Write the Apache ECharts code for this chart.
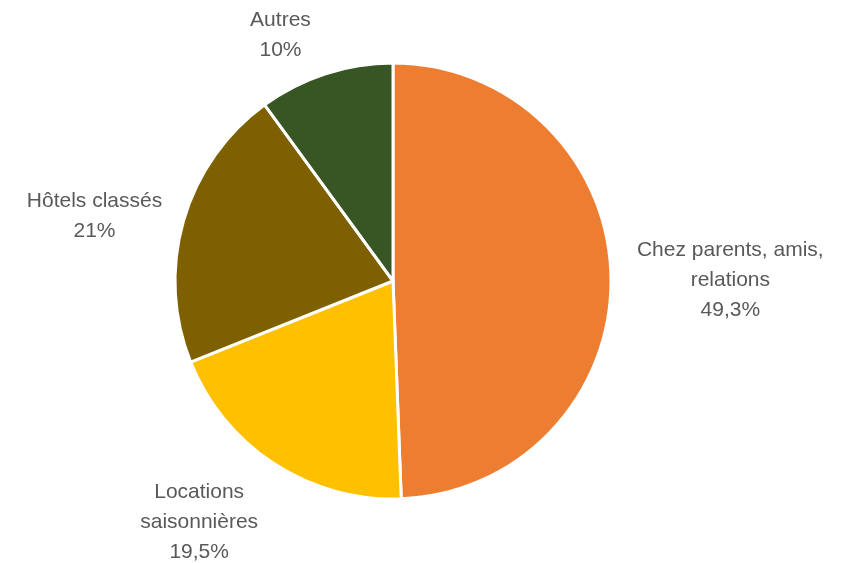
<!DOCTYPE html>
<html>
<head>
<meta charset="utf-8">
<script src="https://cdn.jsdelivr.net/npm/echarts@6/dist/echarts.min.js"></script>
<style>
  html, body { margin: 0; padding: 0; background: #ffffff; }
  #chart { width: 844px; height: 563px; }
</style>
</head>
<body>
<div id="chart"></div>
<script>
// Data
const categories = ['Chez parents, amis,\nrelations', 'Locations\nsaisonnières', 'Hôtels classés', 'Autres'];
const values = [49.3, 19.5, 21, 10];
const valueLabels = ['49,3%', '19,5%', '21%', '10%'];

// Styles (kept separate from data)
const colors = ['#ED7D31', '#FFC000', '#7F6000', '#375623'];
const labelLen = [10, 70, 18, 41];
const labelLen2 = [11, -27, -1, -3];
const labelShiftY = [4, 0, 0, 0];

const chart = echarts.init(document.getElementById('chart'), null, { renderer: 'canvas' });

const data = values.map((v, i) => ({
  name: categories[i],
  value: v,
  itemStyle: { color: colors[i] },
  labelLine: { show: false, length: labelLen[i], length2: labelLen2[i] }
}));

chart.setOption({
  animation: false,
  backgroundColor: '#ffffff',
  series: [{
    type: 'pie',
    center: [393, 281],
    radius: 218,
    startAngle: 90,
    clockwise: true,
    avoidLabelOverlap: false,
    itemStyle: { borderColor: '#ffffff', borderWidth: 3 },
    label: {
      show: true,
      position: 'outside',
      alignTo: 'none',
      distanceToLabelLine: 5,
      fontFamily: 'Liberation Sans',
      fontSize: 21,
      lineHeight: 30,
      color: '#595959',
      formatter: (p) => p.name + '\n' + valueLabels[p.dataIndex]
    },
    labelLine: { show: false },
    labelLayout: (params) => ({
      x: params.labelRect.x + params.labelRect.width / 2,
      y: params.labelRect.y + params.labelRect.height / 2 + labelShiftY[params.dataIndex],
      align: 'center',
      verticalAlign: 'middle'
    }),
    emphasis: { disabled: true },
    data: data
  }]
});
</script>
</body>
</html>
